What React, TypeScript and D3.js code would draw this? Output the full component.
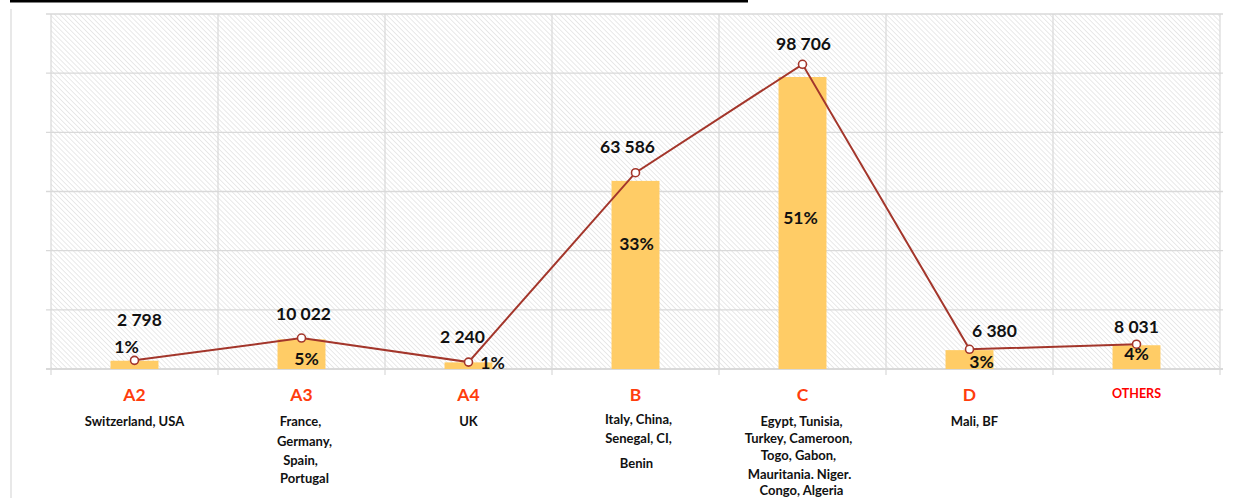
import React from 'react';
import * as d3 from 'd3';

// Chart data
const categories = ['A2', 'A3', 'A4', 'B', 'C', 'D', 'OTHERS'];
const totals = [2798, 10022, 2240, 63586, 98706, 6380, 8031];
const shareLabels = ['1%', '5%', '1%', '33%', '51%', '3%', '4%'];
const countries = [
  ['Switzerland, USA'],
  ['France,', 'Germany,', 'Spain,', 'Portugal'],
  ['UK'],
  ['Italy, China,', 'Senegal, CI,', 'Benin'],
  ['Egypt, Tunisia,', 'Turkey, Cameroon,', 'Togo, Gabon,', 'Mauritania. Niger.', 'Congo, Algeria'],
  ['Mali, BF'],
  [],
];
const gridTicks = [0, 20000, 40000, 60000, 80000, 100000, 120000];

// hand-placed label nudges (Excel style), in px relative to the mark
const valueNudge = [[5, -34], [2, -18], [-6, -19], [-8, -20], [1, -14], [25, -12], [0, -11]];
const shareNudge = [[-8, -8], [5, 26], [24, 7], [1, 69], [-2, 147], [12, 18], [0, 15]];
const countryLineY = [
  [0],
  [0, 20, 39, 57],
  [0],
  [-2, 17, 42],
  [0, 17, 34, 53, 69],
  [0],
  [],
];
const countryDx = [[0], [-1, 3, -1, 3], [0], [3, 3, 1], [-1, -4, -4, -3, -1], [5], []];

const W = 1238;
const H = 498;
const left = 51;
const right = 1220;
const top = 14;
const base = 369;

const font = 'Lato, "Open Sans", sans-serif';

export default function App() {
  const x = d3.scaleBand<string>().domain(categories).range([left, right]).padding(0);
  const yBar = d3.scaleLinear().domain([0, 120000]).range([base, top]);
  const yLine = d3.scaleLinear().domain([0, 115000]).range([base, top]);
  const cx = (c: string) => (x(c) as number) + x.bandwidth() / 2;
  const barW = x.bandwidth() * 0.287;

  const line = d3
    .line<number>()
    .x((_, i) => cx(categories[i]))
    .y((d) => yLine(d));

  const edges = categories.map((c) => x(c) as number).concat([right]);

  return (
    <div style={{ position: 'fixed', left: 0, top: 0 }}>
      <svg width={W} height={H} style={{ display: 'block', background: '#fff' }}>
        <defs>
          <pattern id="hatch" width="3.5" height="3.5" patternUnits="userSpaceOnUse" patternTransform="rotate(-45)">
            <rect width="3.5" height="3.5" fill="#ffffff" />
            <line x1="0" y1="0" x2="0" y2="3.5" stroke="#e0e0e0" strokeWidth="1.4" />
          </pattern>
        </defs>

        <rect x={10} y={0} width={738} height={2.5} fill="#000" />
        <line x1={11} x2={11} y1={9} y2={H} stroke="#d9d9d9" strokeWidth={1.2} />

        <rect x={left} y={top} width={right - left} height={base - top} fill="url(#hatch)" />

        {gridTicks.map((t) => (
          <g key={t}>
            <line x1={left - 5} x2={right + 3} y1={yBar(t)} y2={yBar(t)} stroke="#d9d9d9" strokeWidth={t === 0 ? 2 : 1.3} />
          </g>
        ))}
        {edges.map((e, i) => (
          <line key={i} x1={e} x2={e} y1={top} y2={base + 6} stroke="#d9d9d9" strokeWidth={1.2} />
        ))}

        {categories.map((c, i) => (
          <rect key={c} x={cx(c) - barW / 2} y={yBar(totals[i])} width={barW} height={base - yBar(totals[i])} fill="#ffcc66" />
        ))}

        {categories.map((c, i) => (
          <text
            key={c}
            x={cx(c) + shareNudge[i][0]}
            y={yBar(totals[i]) + shareNudge[i][1]}
            textAnchor="middle"
            fontFamily={font}
            fontWeight={700}
            fontSize={17.5}
            fill="#111"
          >
            {shareLabels[i]}
          </text>
        ))}

        <path d={line(totals) as string} fill="none" stroke="#a3362b" strokeWidth={2} />
        {categories.map((c, i) => (
          <circle key={c} cx={cx(c)} cy={yLine(totals[i])} r={4} fill="#fff" stroke="#a3362b" strokeWidth={1.6} />
        ))}

        {categories.map((c, i) => (
          <text
            key={c}
            x={cx(c) + valueNudge[i][0]}
            y={yLine(totals[i]) + valueNudge[i][1]}
            textAnchor="middle"
            fontFamily={font}
            fontWeight={700}
            fontSize={17.5}
            fill="#111"
          >
            {d3.format(',')(totals[i]).replace(/,/g, ' ')}
          </text>
        ))}

        {categories.map((c) => (
          <text
            key={c}
            x={cx(c)}
            y={c === 'OTHERS' ? 398 : 401}
            textAnchor="middle"
            fontFamily={font}
            fontWeight={700}
            fontSize={c === 'OTHERS' ? 12.5 : 17.5}
            fill={c === 'OTHERS' ? '#ff0000' : '#ff3d0d'}
          >
            {c}
          </text>
        ))}

        {categories.map((c, i) =>
          countries[i].map((t, j) => (
            <text
              key={c + j}
              x={cx(c) + countryDx[i][j]}
              y={426 + countryLineY[i][j]}
              textAnchor="middle"
              fontFamily={font}
              fontWeight={700}
              fontSize={13}
              fill="#111"
            >
              {t}
            </text>
          ))
        )}
      </svg>
    </div>
  );
}
